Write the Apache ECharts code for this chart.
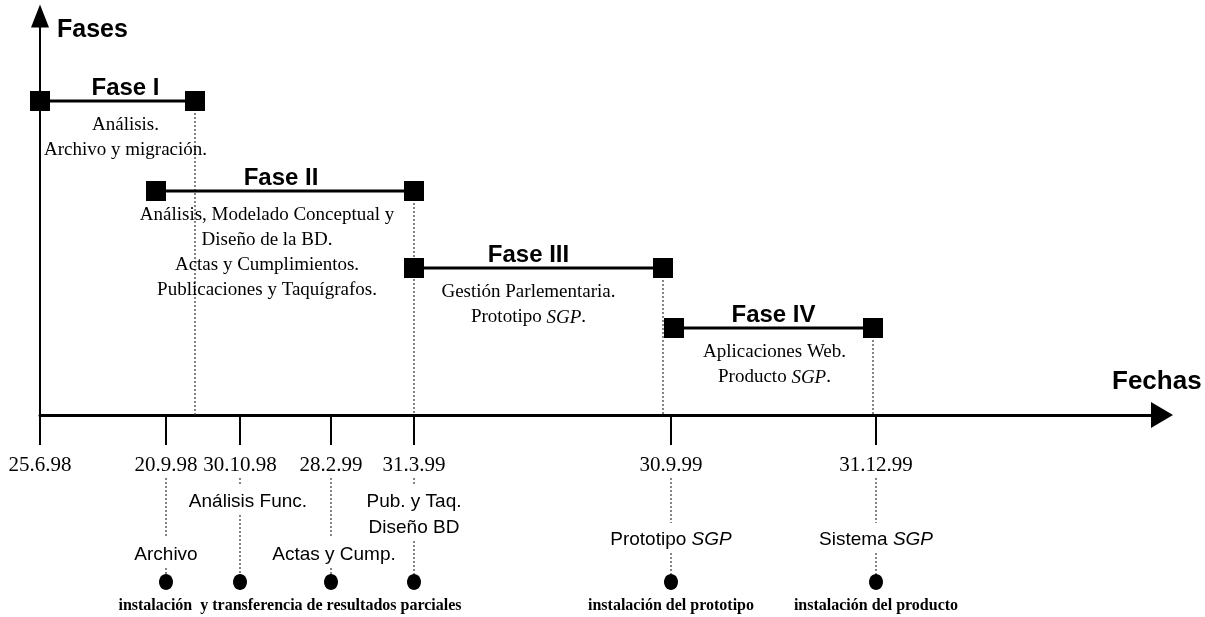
<!DOCTYPE html>
<html>
<head>
<meta charset="utf-8">
<script src="https://cdn.jsdelivr.net/npm/echarts@6/dist/echarts.min.js"></script>
<style>
html, body { margin: 0; padding: 0; background: #fff; }
#chart { width: 1205px; height: 617px; }
</style>
</head>
<body>
<div id="chart"></div>
<script>
// positions on the (schematic, not time-linear) date axis
const tickPos = [0, 126, 200, 291, 374, 631, 836]
const tickLabels = ['25.6.98', '20.9.98', '30.10.98', '28.2.99', '31.3.99', '30.9.99', '31.12.99']

const phaseNames = ['Fase I', 'Fase II', 'Fase III', 'Fase IV']
const phaseStart = [0, 116, 374, 634]
const phaseEnd = [155, 374, 623, 833]
const phaseLevel = [314, 224, 147, 87]
const phaseText = [
  ['Análisis.', 'Archivo y migración.'],
  ['Análisis, Modelado Conceptual y', 'Diseño de la BD.', 'Actas y Cumplimientos.', 'Publicaciones y Taquígrafos.'],
  ['Gestión Parlementaria.', 'Prototipo {i|SGP}.'],
  ['Aplicaciones Web.', 'Producto {i|SGP}.']
]

const milestonePos = [126, 200, 291, 374, 631, 836]
const milestoneText = ['Archivo', 'Análisis Func.', 'Actas y Cump.', 'Pub. y Taq.\nDiseño BD', 'Prototipo {i|SGP}', 'Sistema {i|SGP}']

const captionText = ['instalación  y transferencia de resultados parciales', 'instalación del prototipo', 'instalación del producto']
const captionFrom = [0, 4, 5]
const captionTo = [3, 4, 5]

// layout tweaks only (pixels)
const titleDx = [8, -4, -10, 0]
const descDx = [8, -18, -10, 1]
const milestoneDy = [140, 87, 140, 100, 125, 125]
const milestoneDx = [0, 8, 3, 0, 0, 0]

const serif = 'Liberation Serif'
const sans = 'Liberation Sans'
const dotted = { stroke: '#444', lineWidth: 1.3, lineDash: [2, 2] }

const renderPhase = (params, api) => {
  const i = params.dataIndex
  const p0 = api.coord([api.value(0), api.value(2)])
  const p1 = api.coord([api.value(1), api.value(2)])
  const base = api.coord([api.value(1), 0])
  const mid = (p0[0] + p1[0]) / 2
  const sq = 20
  return {
    type: 'group',
    children: [
      { type: 'line', shape: { x1: p1[0], y1: p1[1], x2: base[0], y2: base[1] }, style: dotted },
      { type: 'line', shape: { x1: p0[0], y1: p0[1], x2: p1[0], y2: p1[1] }, style: { stroke: '#000', lineWidth: 3 } },
      { type: 'rect', shape: { x: p0[0] - sq / 2, y: p0[1] - sq / 2, width: sq, height: sq }, style: { fill: '#000' } },
      { type: 'rect', shape: { x: p1[0] - sq / 2, y: p1[1] - sq / 2, width: sq, height: sq }, style: { fill: '#000' } },
      {
        type: 'text', x: mid + titleDx[i], y: p0[1] - 13,
        style: { text: phaseNames[i], fontSize: 24, fontWeight: 'bold', fontFamily: sans, fill: '#000', align: 'center', verticalAlign: 'middle' }
      },
      {
        type: 'text', x: mid + descDx[i], y: p0[1] + 12,
        style: {
          text: phaseText[i].join('\n'), fontSize: 19, fontFamily: serif, lineHeight: 25, fill: '#000',
          align: 'center', verticalAlign: 'top',
          rich: { i: { fontSize: 19, fontFamily: serif, fontStyle: 'italic', lineHeight: 25, fill: '#000' } }
        }
      }
    ]
  }
}

const renderMilestone = (params, api) => {
  const i = params.dataIndex
  const a = api.coord([api.value(0), 0])
  const x = a[0]
  const n = milestoneText[i].split('\n').length
  const cy = a[1] + milestoneDy[i]
  const half = (n - 1) * 26 / 2 + 8
  const dotY = a[1] + 167
  return {
    type: 'group',
    children: [
      { type: 'line', shape: { x1: x, y1: a[1] + 63, x2: x, y2: cy - half - 9 }, style: dotted },
      { type: 'line', shape: { x1: x, y1: cy + half + 5, x2: x, y2: dotY - 8 }, style: dotted },
      { type: 'ellipse', shape: { cx: x, cy: dotY, rx: 7, ry: 8 }, style: { fill: '#000' } },
      {
        type: 'text', x: x + milestoneDx[i], y: cy,
        style: {
          text: milestoneText[i], fontSize: 19, fontFamily: sans, lineHeight: 26, fill: '#000',
          align: 'center', verticalAlign: 'middle',
          rich: { i: { fontSize: 19, fontFamily: sans, fontStyle: 'italic', lineHeight: 26, fill: '#000' } }
        }
      }
    ]
  }
}

const renderCaption = (params, api) => {
  const a = api.coord([api.value(0), 0])
  return {
    type: 'text', x: a[0], y: a[1] + 191,
    style: { text: captionText[params.dataIndex], fontSize: 16, fontWeight: 'bold', fontFamily: serif, fill: '#000', align: 'center', verticalAlign: 'middle' }
  }
}

const option = {
  animation: false,
  backgroundColor: '#fff',
  grid: { left: 40, right: 43, top: 16, bottom: 202, containLabel: false, outerBoundsMode: 'none' },
  xAxis: {
    type: 'value', min: 0, max: 1122,
    name: 'Fechas', nameLocation: 'end', nameGap: -50, nameMoveOverlap: false,
    nameTextStyle: { fontSize: 26, fontWeight: 'bold', fontFamily: sans, color: '#000', align: 'left', verticalAlign: 'bottom', padding: [0, 0, 20, 0] },
    axisLine: { show: true, lineStyle: { color: '#000', width: 3 }, symbol: ['none', 'triangle'], symbolSize: [26, 22] },
    axisTick: { show: true, customValues: tickPos, length: 30, lineStyle: { color: '#000', width: 2 } },
    axisLabel: {
      customValues: tickPos, margin: 40, color: '#000', fontFamily: serif, fontSize: 21,
      formatter: (v) => tickLabels[tickPos.indexOf(v)]
    },
    splitLine: { show: false }
  },
  yAxis: {
    type: 'value', min: 0, max: 399,
    name: 'Fases', nameLocation: 'end', nameGap: -14, nameMoveOverlap: false,
    nameTextStyle: { fontSize: 25, fontWeight: 'bold', fontFamily: sans, color: '#000', align: 'left', verticalAlign: 'middle', padding: [0, 0, 0, 17] },
    axisLine: { show: true, lineStyle: { color: '#000', width: 2 }, symbol: ['none', 'triangle'], symbolSize: [18, 23] },
    axisTick: { show: false },
    axisLabel: { show: false },
    splitLine: { show: false }
  },
  series: [
    {
      type: 'custom', silent: true, renderItem: renderPhase,
      data: phaseNames.map((n, i) => [phaseStart[i], phaseEnd[i], phaseLevel[i]])
    },
    {
      type: 'custom', silent: true, renderItem: renderMilestone,
      data: milestonePos.map((p) => [p, 0])
    },
    {
      type: 'custom', silent: true, renderItem: renderCaption,
      data: captionText.map((t, i) => [(milestonePos[captionFrom[i]] + milestonePos[captionTo[i]]) / 2, 0])
    }
  ]
}

const myChart = echarts.init(document.getElementById('chart'))
myChart.setOption(option)
</script>
</body>
</html>
